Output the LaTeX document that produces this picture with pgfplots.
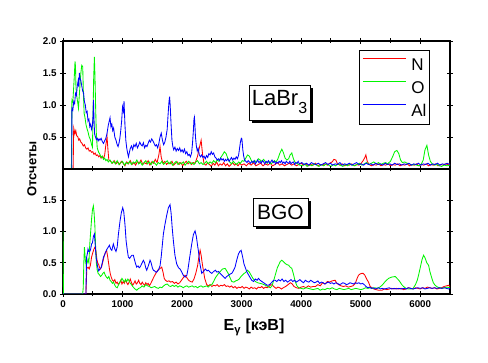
\documentclass[border=0pt]{standalone}
\usepackage{fontspec}
\setmainfont{Liberation Sans}
\usepackage{pgfplots}
\pgfplotsset{compat=1.18}
\usetikzlibrary{shadows}
\definecolor{cN}{RGB}{255,0,0}
\definecolor{cO}{RGB}{0,245,0}
\definecolor{cAl}{RGB}{0,0,255}
\begin{document}
\begin{tikzpicture}
\path[use as bounding box] (0,0) rectangle (488pt,363pt);
\pgfplotsset{
  every axis/.append style={
    scale only axis, width=387pt, anchor=south west,
    xmin=0, xmax=6500, ymin=0, ymax=2,
    xtick={0,1000,...,6000}, minor x tick num=1,
    tick align=center, major tick length=6pt, minor tick length=5pt,
    every tick/.style={black, line width=0.9pt},
    axis line style={line width=1.2pt},
    xtick pos=both, ytick pos=both,
    /pgf/number format/assume math mode=true,
    tick label style={font=\bfseries\fontsize{9.8}{10}\selectfont},
    yticklabel style={/pgf/number format/fixed, /pgf/number format/fixed zerofill, /pgf/number format/precision=1},
    xticklabel style={/pgf/number format/1000 sep={}},
    every axis plot/.append style={line width=0.85pt, mark=none},
  }
}
% ---------------- top panel: LaBr3 ----------------
\begin{axis}[at={(63pt,194pt)}, height=128pt,
  ytick={0.5,1,1.5,2}, xticklabels={},
  legend cell align=left,
  legend style={at={(0.948,0.93)}, anchor=north east, draw=black, line width=0.8pt, fill=white,
    inner xsep=3pt, inner ysep=8pt, row sep=10.5pt,
    font=\fontsize{17}{17}\selectfont,
    nodes={inner sep=0pt, text height=12.2pt, text depth=0pt},
    /tikz/every odd column/.append style={column sep=5pt}},
  legend image code/.code={\draw[#1, line width=0.8pt] (0pt,6pt) -- (43pt,6pt);},
]
\addplot[cN] table {
E V
0 0
170 0
180 0.64
200 0.55
215 0.60
230 0.52
250 0.50
265 0.45
280 0.47
300 0.42
320 0.40
340 0.36
360 0.38
380 0.33
400 0.31
420 0.33
440 0.28
460 0.29
480 0.26
500 0.27
520 0.23
540 0.25
560 0.21
580 0.22
600 0.19
620 0.21
640 0.17
660 0.20
680 0.16
700 0.22
720 0.38
740 0.50
755 0.30
770 0.14
800 0.12
830 0.09
860 0.13
890 0.08
920 0.11
950 0.07
980 0.12
1010 0.09
1040 0.05
1070 0.11
1100 0.08
1130 0.13
1160 0.07
1190 0.10
1220 0.06
1250 0.12
1280 0.09
1310 0.14
1340 0.07
1370 0.10
1400 0.08
1430 0.13
1460 0.06
1490 0.11
1520 0.09
1550 0.15
1580 0.10
1610 0.22
1630 0.35
1650 0.18
1680 0.09
1710 0.12
1740 0.07
1770 0.10
1800 0.08
1830 0.12
1860 0.06
1890 0.09
1920 0.11
1950 0.07
1980 0.10
2010 0.05
2040 0.09
2070 0.12
2100 0.08
2130 0.11
2160 0.07
2190 0.10
2220 0.09
2260 0.20
2290 0.33
2320 0.45
2345 0.22
2370 0.08
2400 0.06
2430 0.10
2460 0.07
2490 0.04
2520 0.09
2550 0.06
2580 0.11
2610 0.05
2640 0.08
2670 0.06
2700 0.10
2730 0.05
2760 0.08
2790 0.04
2820 0.07
2850 0.10
2880 0.06
2910 0.08
2940 0.05
2970 0.09
3000 0.06
3040 0.08
3080 0.05
3120 0.09
3160 0.06
3200 0.10
3240 0.05
3280 0.07
3320 0.09
3360 0.05
3400 0.08
3440 0.06
3480 0.09
3520 0.05
3560 0.07
3600 0.10
3640 0.06
3680 0.08
3720 0.05
3760 0.07
3800 0.09
3840 0.06
3880 0.08
3920 0.05
3960 0.07
4000 0.09
4040 0.06
4080 0.08
4120 0.05
4160 0.07
4200 0.06
4240 0.09
4280 0.05
4320 0.07
4360 0.06
4400 0.08
4440 0.06
4480 0.09
4520 0.11
4550 0.15
4583 0.14
4610 0.08
4650 0.06
4690 0.08
4730 0.05
4770 0.07
4810 0.06
4850 0.08
4890 0.05
4930 0.07
4970 0.06
5010 0.09
5040 0.13
5065 0.17
5087 0.22
5110 0.12
5140 0.07
5180 0.05
5220 0.07
5260 0.06
5300 0.08
5340 0.05
5380 0.07
5420 0.06
5460 0.08
5500 0.05
5540 0.07
5580 0.06
5620 0.08
5660 0.05
5700 0.07
5740 0.06
5780 0.08
5820 0.05
5860 0.07
5900 0.06
5940 0.08
5980 0.05
6020 0.07
6060 0.06
6100 0.08
6140 0.05
6180 0.07
6220 0.06
6260 0.08
6300 0.05
6340 0.07
6380 0.06
6420 0.08
6460 0.07
6500 0.08
};
\addlegendentry{N}
\addplot[cO] table {
E V
0 0
140 0
145 0.27
150 1.08
165 1.05
175 1.20
190 1.45
202 1.68
210 1.60
218 1.27
230 1.15
245 1.05
260 0.95
270 1.10
285 1.30
300 1.50
315 1.62
331 1.60
342 1.20
355 0.87
370 0.80
385 0.70
400 0.64
420 0.58
440 0.50
460 0.46
480 0.38
495 0.34
505 0.90
515 1.40
527 1.75
537 1.45
548 0.97
560 0.55
575 0.33
600 0.26
620 0.23
640 0.18
660 0.20
680 0.15
700 0.17
720 0.13
740 0.15
760 0.11
790 0.14
820 0.09
850 0.12
880 0.08
910 0.13
940 0.07
970 0.10
1000 0.12
1030 0.06
1060 0.10
1090 0.08
1120 0.12
1150 0.07
1180 0.11
1210 0.09
1240 0.14
1270 0.08
1300 0.11
1330 0.06
1360 0.10
1390 0.13
1420 0.08
1450 0.11
1480 0.07
1510 0.12
1540 0.09
1570 0.06
1600 0.10
1630 0.08
1660 0.12
1690 0.07
1720 0.10
1750 0.13
1780 0.08
1810 0.11
1840 0.06
1870 0.09
1900 0.12
1930 0.07
1960 0.10
1990 0.08
2020 0.11
2050 0.06
2080 0.09
2110 0.12
2140 0.08
2170 0.10
2200 0.07
2230 0.11
2260 0.13
2290 0.08
2320 0.10
2350 0.07
2380 0.09
2410 0.12
2440 0.08
2470 0.11
2500 0.09
2530 0.13
2560 0.10
2590 0.14
2620 0.12
2650 0.18
2680 0.22
2710 0.27
2740 0.24
2770 0.16
2800 0.11
2830 0.08
2860 0.12
2890 0.09
2920 0.07
2950 0.11
2980 0.09
3010 0.13
3040 0.12
3070 0.17
3100 0.22
3130 0.20
3160 0.14
3190 0.10
3220 0.13
3250 0.11
3280 0.16
3310 0.14
3340 0.12
3370 0.15
3400 0.11
3430 0.09
3460 0.12
3490 0.08
3520 0.10
3550 0.13
3580 0.11
3610 0.16
3640 0.24
3675 0.31
3700 0.26
3730 0.17
3760 0.14
3790 0.16
3815 0.22
3843 0.25
3870 0.16
3900 0.10
3940 0.08
3980 0.06
4020 0.05
4060 0.08
4100 0.04
4140 0.07
4180 0.05
4220 0.08
4260 0.06
4300 0.04
4340 0.07
4380 0.05
4420 0.08
4460 0.06
4500 0.04
4540 0.07
4580 0.05
4620 0.08
4660 0.06
4700 0.04
4740 0.07
4780 0.05
4820 0.08
4860 0.06
4900 0.05
4940 0.07
4980 0.09
5020 0.06
5060 0.08
5100 0.10
5140 0.07
5180 0.09
5220 0.11
5260 0.08
5300 0.10
5340 0.07
5380 0.09
5420 0.10
5450 0.08
5500 0.12
5540 0.20
5570 0.27
5608 0.29
5640 0.24
5670 0.14
5700 0.10
5740 0.11
5780 0.09
5820 0.08
5860 0.06
5900 0.07
5940 0.06
5980 0.05
6020 0.08
6050 0.14
6080 0.30
6112 0.37
6140 0.22
6170 0.12
6200 0.08
6240 0.06
6280 0.07
6320 0.05
6360 0.04
6400 0.06
6450 0.05
6500 0.06
};
\addlegendentry{O}
\addplot[cAl] table {
E V
0 0
146 0
150 0.95
165 0.92
180 1.05
195 1.02
210 1.18
225 1.15
240 1.30
255 1.38
265 1.28
275 1.50
285 1.42
300 1.38
315 1.30
330 1.22
345 1.19
360 1.05
375 1.00
390 0.88
405 0.90
420 0.75
435 0.78
450 0.66
465 0.70
480 0.62
495 0.68
505 0.85
512 1.08
520 0.80
530 0.55
545 0.50
560 0.46
575 0.48
590 0.44
605 0.47
620 0.45
640 0.48
660 0.43
680 0.40
700 0.44
720 0.48
740 0.56
760 0.68
775 0.74
790 0.80
805 0.66
820 0.70
835 0.60
850 0.64
870 0.50
890 0.45
910 0.38
925 0.35
940 0.40
955 0.48
970 0.60
985 0.75
1000 0.97
1015 0.90
1025 1.06
1040 0.70
1055 0.45
1070 0.33
1085 0.25
1100 0.19
1115 0.26
1130 0.32
1150 0.36
1170 0.30
1190 0.38
1210 0.35
1230 0.40
1250 0.33
1270 0.37
1290 0.42
1310 0.38
1330 0.36
1350 0.41
1370 0.33
1390 0.37
1410 0.35
1430 0.40
1450 0.45
1470 0.42
1490 0.47
1510 0.44
1530 0.40
1550 0.36
1570 0.38
1590 0.33
1610 0.40
1630 0.50
1650 0.56
1670 0.45
1690 0.38
1710 0.42
1730 0.50
1750 0.62
1765 0.85
1780 1.05
1790 1.13
1800 1.00
1815 0.70
1830 0.45
1845 0.35
1860 0.30
1880 0.34
1900 0.28
1920 0.32
1940 0.29
1960 0.33
1980 0.27
2000 0.30
2020 0.26
2040 0.31
2060 0.24
2080 0.27
2100 0.21
2120 0.23
2140 0.19
2160 0.25
2175 0.40
2190 0.60
2200 0.78
2207 0.81
2215 0.70
2225 0.50
2240 0.36
2255 0.28
2270 0.32
2290 0.22
2310 0.19
2330 0.22
2350 0.18
2370 0.20
2390 0.16
2410 0.21
2430 0.18
2450 0.24
2470 0.22
2490 0.27
2510 0.23
2530 0.25
2550 0.19
2570 0.17
2590 0.14
2610 0.16
2630 0.13
2650 0.17
2670 0.14
2690 0.16
2710 0.12
2730 0.15
2750 0.13
2770 0.16
2790 0.12
2810 0.15
2830 0.18
2850 0.14
2870 0.17
2890 0.15
2910 0.19
2930 0.16
2950 0.22
2965 0.32
2980 0.42
2995 0.48
3005 0.47
3020 0.30
3035 0.20
3050 0.14
3070 0.12
3090 0.10
3110 0.13
3130 0.11
3150 0.09
3170 0.12
3190 0.10
3210 0.13
3230 0.08
3250 0.11
3270 0.14
3290 0.10
3310 0.12
3330 0.09
3350 0.13
3370 0.11
3390 0.08
3410 0.12
3430 0.10
3450 0.13
3470 0.09
3490 0.11
3510 0.14
3530 0.10
3550 0.12
3570 0.08
3590 0.11
3610 0.09
3630 0.12
3650 0.10
3670 0.13
3690 0.09
3710 0.11
3730 0.08
3750 0.12
3770 0.10
3790 0.09
3810 0.12
3830 0.08
3850 0.10
3870 0.11
3890 0.07
3910 0.10
3930 0.09
3950 0.12
3970 0.08
4010 0.10
4050 0.07
4090 0.09
4130 0.06
4170 0.10
4210 0.08
4250 0.07
4290 0.09
4330 0.06
4370 0.08
4410 0.10
4450 0.07
4490 0.09
4530 0.06
4570 0.08
4610 0.07
4650 0.10
4690 0.06
4730 0.08
4770 0.07
4810 0.09
4850 0.06
4890 0.08
4930 0.10
4970 0.07
5010 0.08
5050 0.06
5090 0.09
5130 0.07
5170 0.08
5210 0.06
5250 0.09
5290 0.07
5330 0.08
5370 0.06
5410 0.09
5450 0.07
5490 0.08
5530 0.06
5570 0.09
5610 0.07
5650 0.08
5690 0.06
5730 0.08
5770 0.07
5810 0.09
5850 0.06
5890 0.08
5930 0.07
5970 0.09
6010 0.06
6050 0.08
6090 0.07
6130 0.09
6170 0.06
6210 0.08
6250 0.07
6290 0.09
6330 0.06
6370 0.08
6410 0.07
6450 0.09
6500 0.07
};
\addlegendentry{Al}
\node[draw=black, line width=0.8pt, fill=white, inner sep=0pt, minimum width=61pt, minimum height=35pt,
  drop shadow={shadow xshift=3.5pt, shadow yshift=-3.5pt, fill=black, opacity=1},
  font=\fontsize{22}{22}\selectfont] at (rel axis cs:0.5594,0.5195)
  {LaBr\raisebox{-8pt}{\fontsize{16}{16}\selectfont 3}};
\draw[line width=2.6pt] (rel axis cs:0,0) -- (rel axis cs:1,0);
\end{axis}
% ---------------- bottom panel: BGO ----------------
\begin{axis}[at={(63pt,69pt)}, height=125pt,
  ytick={0,0.5,1,1.5},
]
\addplot[cN] table {
E V
0 0
385 0
392 0.20
400 0.41
420 0.43
440 0.40
460 0.46
480 0.59
500 0.66
520 0.72
538 0.75
555 0.68
570 0.55
585 0.49
600 0.47
615 0.42
630 0.40
650 0.44
670 0.52
690 0.60
710 0.66
734 0.69
750 0.60
765 0.50
780 0.40
795 0.32
810 0.27
830 0.22
850 0.20
870 0.23
890 0.17
910 0.19
930 0.15
950 0.18
970 0.22
990 0.16
1010 0.20
1030 0.17
1050 0.23
1070 0.18
1090 0.15
1110 0.19
1130 0.24
1150 0.18
1170 0.14
1190 0.17
1210 0.21
1230 0.16
1250 0.18
1270 0.22
1290 0.17
1310 0.15
1330 0.19
1350 0.16
1370 0.14
1390 0.18
1410 0.15
1430 0.17
1450 0.13
1470 0.16
1490 0.20
1510 0.24
1530 0.28
1560 0.33
1590 0.38
1620 0.40
1658 0.43
1680 0.35
1700 0.25
1720 0.22
1750 0.20
1780 0.21
1810 0.19
1840 0.20
1870 0.17
1900 0.19
1930 0.16
1960 0.18
1990 0.22
2020 0.26
2050 0.30
2080 0.26
2110 0.22
2140 0.20
2170 0.19
2200 0.24
2230 0.33
2260 0.45
2280 0.58
2303 0.70
2320 0.62
2340 0.48
2358 0.38
2380 0.25
2414 0.15
2440 0.13
2470 0.15
2500 0.12
2530 0.14
2560 0.13
2590 0.15
2620 0.12
2650 0.14
2680 0.13
2710 0.15
2740 0.12
2770 0.13
2800 0.11
2830 0.13
2860 0.10
2890 0.12
2920 0.09
2950 0.11
2980 0.10
3010 0.12
3040 0.09
3070 0.11
3100 0.10
3130 0.08
3160 0.11
3190 0.09
3220 0.10
3250 0.08
3280 0.11
3310 0.10
3340 0.12
3370 0.09
3400 0.11
3430 0.10
3460 0.12
3490 0.15
3520 0.14
3550 0.11
3580 0.09
3610 0.11
3640 0.10
3670 0.08
3700 0.10
3740 0.12
3780 0.15
3820 0.18
3850 0.16
3880 0.12
3920 0.10
3960 0.09
4000 0.11
4040 0.12
4080 0.10
4120 0.13
4160 0.11
4200 0.12
4240 0.12
4280 0.15
4320 0.13
4360 0.18
4400 0.16
4440 0.20
4480 0.19
4520 0.21
4571 0.22
4600 0.17
4630 0.15
4670 0.13
4710 0.12
4750 0.13
4790 0.11
4830 0.12
4870 0.13
4910 0.17
4940 0.25
4963 0.30
4990 0.32
5020 0.33
5042 0.33
5070 0.30
5100 0.24
5131 0.19
5160 0.12
5188 0.10
5220 0.08
5260 0.07
5300 0.06
5356 0.06
5400 0.08
5440 0.07
5480 0.08
5520 0.09
5560 0.08
5600 0.09
5640 0.08
5680 0.09
5720 0.07
5760 0.08
5800 0.10
5840 0.09
5880 0.08
5920 0.10
5960 0.09
6000 0.08
6040 0.10
6080 0.09
6120 0.11
6160 0.10
6200 0.09
6240 0.10
6280 0.08
6320 0.09
6360 0.10
6400 0.12
6440 0.13
6480 0.14
6500 0.12
};
\addplot[cO] table {
E V
0 1.0
8 0
330 0
340 0.10
350 0.50
360 0.75
375 0.55
390 0.45
405 0.50
420 0.55
435 0.50
450 0.80
465 1.00
480 1.20
495 1.35
510 1.41
522 1.30
535 1.10
548 0.75
560 0.50
575 0.38
590 0.33
610 0.31
630 0.28
650 0.30
670 0.33
690 0.35
710 0.30
730 0.27
750 0.25
770 0.28
790 0.22
810 0.20
830 0.17
850 0.19
870 0.14
890 0.11
910 0.10
930 0.14
950 0.18
970 0.21
990 0.25
1010 0.22
1030 0.19
1050 0.23
1070 0.20
1090 0.24
1110 0.21
1130 0.17
1150 0.15
1170 0.12
1190 0.10
1210 0.08
1240 0.06
1270 0.09
1300 0.10
1330 0.13
1360 0.11
1390 0.15
1420 0.13
1450 0.12
1480 0.10
1510 0.11
1540 0.12
1570 0.10
1600 0.09
1630 0.11
1660 0.10
1690 0.13
1720 0.15
1750 0.16
1780 0.13
1810 0.12
1840 0.14
1870 0.12
1900 0.14
1930 0.11
1960 0.13
1990 0.12
2020 0.10
2050 0.12
2080 0.13
2110 0.11
2140 0.12
2170 0.13
2200 0.11
2230 0.12
2260 0.10
2290 0.12
2320 0.13
2350 0.11
2380 0.12
2410 0.13
2440 0.11
2470 0.14
2500 0.15
2530 0.20
2560 0.26
2590 0.30
2620 0.34
2650 0.37
2680 0.40
2723 0.41
2750 0.37
2780 0.32
2810 0.25
2835 0.20
2870 0.19
2900 0.21
2930 0.22
2960 0.24
2990 0.28
3030 0.32
3060 0.34
3100 0.38
3130 0.35
3160 0.30
3190 0.25
3230 0.20
3270 0.18
3310 0.17
3350 0.16
3400 0.14
3440 0.12
3480 0.10
3510 0.13
3540 0.22
3570 0.32
3600 0.42
3620 0.46
3650 0.52
3675 0.54
3700 0.52
3730 0.49
3760 0.47
3790 0.46
3815 0.43
3843 0.41
3870 0.32
3900 0.20
3930 0.13
3960 0.10
4000 0.09
4040 0.08
4080 0.10
4120 0.09
4160 0.08
4200 0.07
4240 0.08
4280 0.09
4320 0.06
4360 0.08
4400 0.07
4440 0.09
4480 0.08
4520 0.10
4560 0.08
4600 0.07
4640 0.09
4680 0.08
4720 0.07
4760 0.08
4800 0.09
4840 0.07
4880 0.08
4920 0.09
4960 0.08
5000 0.07
5040 0.08
5080 0.10
5120 0.09
5160 0.10
5200 0.09
5240 0.10
5280 0.09
5320 0.11
5360 0.14
5412 0.20
5468 0.25
5520 0.27
5580 0.28
5610 0.25
5640 0.22
5670 0.18
5690 0.15
5720 0.12
5760 0.09
5800 0.08
5840 0.08
5880 0.09
5920 0.15
5950 0.22
5972 0.30
6000 0.42
6030 0.55
6056 0.62
6080 0.58
6110 0.50
6140 0.46
6165 0.35
6196 0.25
6220 0.18
6250 0.14
6290 0.11
6330 0.10
6370 0.09
6410 0.10
6450 0.11
6500 0.10
};
\addplot[cAl] table {
E V
0 0
385 0
390 0.30
397 0.59
410 0.65
420 0.72
435 0.68
450 0.68
465 0.72
480 0.80
495 0.82
510 0.92
527 0.96
540 0.80
555 0.60
570 0.50
585 0.42
600 0.37
620 0.40
640 0.42
660 0.50
680 0.59
700 0.63
720 0.68
740 0.72
760 0.75
780 0.78
800 0.72
820 0.70
846 0.80
870 0.72
890 0.68
910 0.75
930 0.95
958 1.17
980 1.30
1003 1.38
1020 1.32
1042 1.10
1060 0.85
1080 0.70
1098 0.59
1120 0.57
1140 0.60
1160 0.62
1182 0.62
1200 0.55
1220 0.48
1238 0.43
1260 0.45
1280 0.42
1300 0.44
1320 0.48
1350 0.54
1370 0.50
1390 0.42
1406 0.38
1430 0.44
1450 0.50
1462 0.54
1480 0.50
1500 0.42
1518 0.38
1540 0.37
1560 0.35
1574 0.35
1600 0.38
1630 0.45
1650 0.60
1670 0.80
1686 0.96
1710 1.10
1740 1.25
1770 1.38
1798 1.43
1815 1.30
1835 1.05
1854 0.85
1880 0.62
1910 0.48
1940 0.42
1966 0.40
1990 0.36
2020 0.30
2050 0.27
2080 0.30
2100 0.40
2130 0.60
2162 0.80
2190 0.95
2218 1.01
2240 0.92
2260 0.78
2274 0.69
2300 0.48
2330 0.33
2360 0.36
2390 0.40
2420 0.37
2443 0.38
2470 0.35
2499 0.33
2530 0.36
2560 0.38
2585 0.35
2610 0.36
2640 0.33
2670 0.30
2700 0.27
2723 0.25
2750 0.28
2780 0.30
2810 0.32
2835 0.33
2860 0.37
2890 0.43
2920 0.55
2947 0.64
2970 0.68
2992 0.70
3020 0.58
3040 0.48
3059 0.43
3090 0.35
3120 0.30
3150 0.25
3170 0.22
3200 0.20
3230 0.24
3260 0.22
3283 0.25
3310 0.22
3340 0.20
3370 0.18
3400 0.16
3430 0.14
3450 0.14
3480 0.16
3510 0.19
3540 0.22
3563 0.22
3590 0.20
3620 0.23
3650 0.21
3680 0.24
3710 0.20
3740 0.22
3770 0.19
3800 0.21
3830 0.23
3860 0.20
3890 0.22
3920 0.19
3950 0.21
3980 0.23
4010 0.20
4040 0.18
4070 0.22
4100 0.20
4130 0.19
4160 0.22
4190 0.20
4220 0.18
4250 0.19
4280 0.21
4310 0.17
4340 0.19
4370 0.18
4400 0.16
4430 0.18
4460 0.19
4490 0.17
4520 0.18
4550 0.16
4580 0.18
4610 0.17
4640 0.15
4670 0.16
4700 0.18
4730 0.17
4760 0.15
4790 0.16
4820 0.18
4850 0.17
4880 0.16
4910 0.18
4940 0.17
4970 0.18
5000 0.16
5030 0.17
5060 0.15
5090 0.12
5120 0.10
5150 0.11
5180 0.09
5210 0.10
5240 0.08
5270 0.09
5300 0.10
5330 0.08
5360 0.09
5400 0.08
5440 0.09
5480 0.10
5520 0.08
5560 0.09
5600 0.08
5640 0.09
5680 0.08
5720 0.09
5760 0.08
5800 0.10
5840 0.09
5880 0.08
5920 0.09
5960 0.10
6000 0.09
6040 0.10
6080 0.08
6120 0.09
6160 0.10
6200 0.09
6240 0.10
6280 0.09
6320 0.10
6360 0.09
6400 0.10
6440 0.09
6480 0.08
6500 0.09
};
\node[draw=black, line width=0.8pt, fill=white, inner sep=0pt, minimum width=55pt, minimum height=28pt,
  drop shadow={shadow xshift=3.5pt, shadow yshift=-3.5pt, fill=black, opacity=1},
  font=\fontsize{21}{21}\selectfont] at (rel axis cs:0.562,0.656) {BGO};
\end{axis}
\node[rotate=90, font=\bfseries\fontsize{13}{13}\selectfont] at (32pt,194pt) {Отсчеты};
\node[anchor=base, font=\bfseries\fontsize{16}{16}\selectfont] at (254pt,32pt) {E\textsubscript{γ} [кэВ]};
\end{tikzpicture}
\end{document}
